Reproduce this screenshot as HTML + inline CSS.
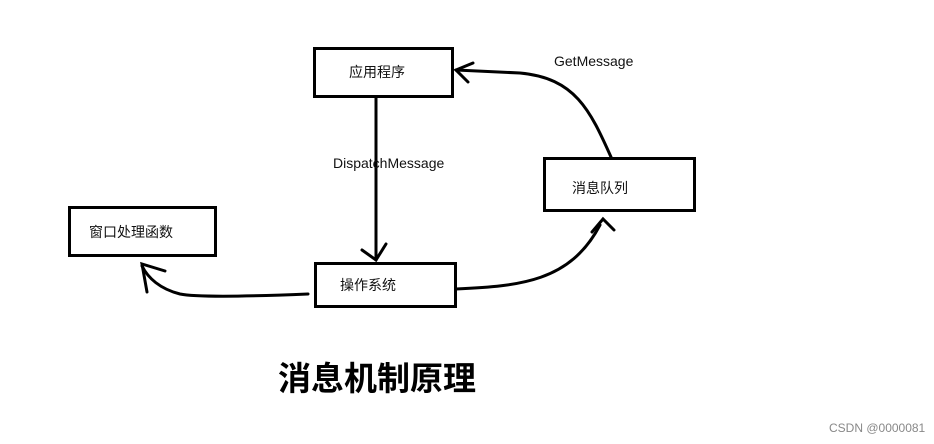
<!DOCTYPE html>
<html><head><meta charset="utf-8"><style>
body{margin:0;width:934px;height:444px;background:#fff;overflow:hidden;position:relative;font-family:"Liberation Sans","Noto Sans CJK SC",sans-serif}
.b{position:absolute;border:3px solid #000;box-sizing:border-box;background:#fff}
.t{position:absolute;font-size:14px;color:#111;white-space:nowrap}
</style></head><body>
<svg width="934" height="444" style="position:absolute;left:0;top:0" fill="none" stroke="#000" stroke-width="3" stroke-linecap="round">
<path d="M376 97 L376 260"/>
<path d="M362 250 L376 260 L386 244"/>
<path d="M456 289 C520 286 570 282 600 225"/>
<path d="M592 232 L603 219 L614 230"/>
<path d="M611 157 C590 110 575 78 520 73 L456 70"/>
<path d="M473 63 L456 70 L468 82"/>
<path d="M308 294 C260 296 200 298 180 294 C160 289 148 278 142 266"/>
<path d="M165 271 L142 264 L147 292"/>
</svg>
<div class="b" style="left:313px;top:47px;width:141px;height:51px"></div>
<div class="b" style="left:543px;top:157px;width:153px;height:55px"></div>
<div class="b" style="left:68px;top:206px;width:149px;height:51px"></div>
<div class="b" style="left:314px;top:262px;width:143px;height:46px"></div>
<div class="t" style="left:349px;top:62px">应用程序</div>
<div class="t" style="left:572px;top:178px">消息队列</div>
<div class="t" style="left:89px;top:222px">窗口处理函数</div>
<div class="t" style="left:340px;top:275px">操作系统</div>
<div class="t" style="left:333px;top:155px">DispatchMessage</div>
<div class="t" style="left:554px;top:53px">GetMessage</div>
<div style="position:absolute;left:278px;top:354px;font-size:33px;font-weight:bold;font-family:'Noto Sans CJK SC',sans-serif;line-height:44px">消息机制原理</div>
<div style="position:absolute;left:829px;top:421px;font-size:12px;color:#888">CSDN @0000081</div>
</body></html>
